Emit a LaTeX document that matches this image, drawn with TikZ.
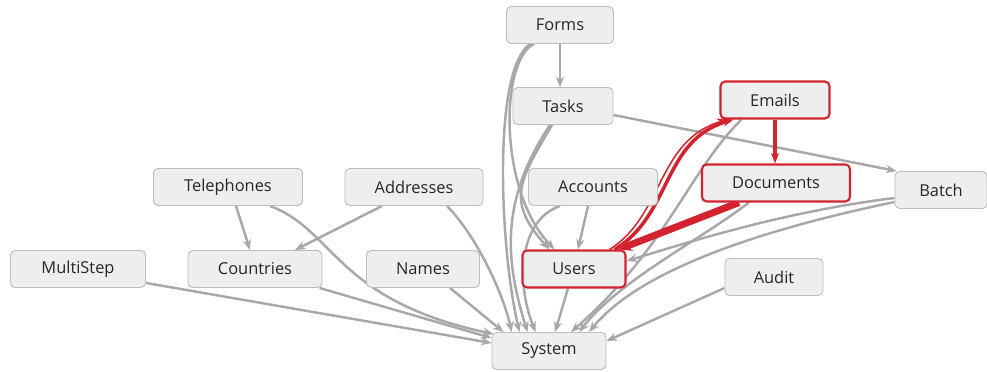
\documentclass[tikz,border=0pt]{standalone}
\usepackage{fontspec}
\setmainfont{Open Sans}
\usetikzlibrary{arrows.meta,calc,backgrounds}
\definecolor{boxfill}{HTML}{EEEEEE}
\definecolor{boxline}{HTML}{BDBDBD}
\definecolor{edgegray}{HTML}{A8A8A8}
\definecolor{hired}{HTML}{D2232F}
\begin{document}
\begin{tikzpicture}[x=0.03cm,y=-0.03cm,
  box/.style={rectangle,rounded corners=4pt,draw=boxline,fill=boxfill,line width=0.8pt,
    minimum height=1.11cm,font=\fontsize{14}{16}\selectfont,text=black!85},
  hot/.style={box,draw=hired,line width=1.8pt},
  dep/.style={draw=edgegray,line width=2.1pt,-{Stealth[length=9pt,width=7pt]}},
  hotdep/.style={dep,draw=hired}]
\useasboundingbox (0,0) rectangle (987,372);
% nodes
\node [box,minimum width=3.21cm] (forms) at (560,25) {Forms};
\node [box,minimum width=3.00cm] (tasks) at (563,106) {Tasks};
\node [hot,minimum width=3.27cm] (emails) at (775,100) {Emails};
\node [hot,minimum width=4.44cm] (documents) at (776,183) {Documents};
\node [box,minimum width=2.76cm] (batch) at (941,190) {Batch};
\node [box,minimum width=4.47cm] (telephones) at (228,187) {Telephones};
\node [box,minimum width=4.14cm] (addresses) at (414,187) {Addresses};
\node [box,minimum width=3.87cm] (accounts) at (593,187) {Accounts};
\node [box,minimum width=4.05cm] (multistep) at (78,269) {MultiStep};
\node [box,minimum width=4.02cm] (countries) at (255,269) {Countries};
\node [box,minimum width=3.39cm] (names) at (423,269) {Names};
\node [hot,minimum width=3.09cm] (users) at (574,269) {Users};
\node [box,minimum width=2.94cm] (audit) at (774,277) {Audit};
\node [box,minimum width=3.42cm] (system) at (549,351) {System};
% edges
\begin{scope}[on background layer]
\draw [dep] (forms.south) -- (forms.south |- tasks.north);
\draw [dep] ($(forms.south west)+(28,0)$) .. controls (500,60) and (498,190) .. ($(users.north west)+(33,0)$);
\draw [dep] ($(forms.south west)+(24,0)$) .. controls (492,70) and (500,250) .. ($(system.north west)+(28,0)$);
\draw [dep] ($(tasks.south)+(-11,0)$) .. controls (520,180) and (505,200) .. ($(users.north west)+(28,0)$);
\draw [dep] ($(tasks.south)+(-13,0)$) .. controls (500,200) and (505,260) .. ($(system.north west)+(36,0)$);
\draw [dep] ($(tasks.east)+(0,9)$) -- ($(batch.north west)+(2,0)$);
\draw [dep] ($(accounts.south)+(-5,0)$) -- ($(users.north)+(4,0)$);
\draw [dep] ($(accounts.south)+(-33,0)$) .. controls (520,220) and (515,280) .. ($(system.north west)+(44,0)$);
\draw [dep] ($(telephones.south)+(8,0)$) -- ($(countries.north)+(-5,0)$);
\draw [dep] ($(telephones.south)+(42,0)$) .. controls (335,230) and (335,300) .. ($(system.north west)+(2,2)$);
\draw [dep] ($(addresses.south)+(-32,0)$) -- ($(countries.north)+(40,0)$);
\draw [dep] ($(addresses.south)+(33,0)$) .. controls (480,240) and (505,300) .. ($(system.north west)+(20,0)$);
\draw [dep] ($(multistep.south east)+(0,-5)$) -- ($(system.west)+(0,-8)$);
\draw [dep] ($(countries.south east)+(-3,0)$) -- ($(system.west)+(0,-13)$);
\draw [dep] ($(names.south)+(27,0)$) -- ($(system.north west)+(12,0)$);
\draw [dep] ($(users.south)+(-6,0)$) -- ($(system.north)+(6,0)$);
\draw [dep] ($(emails.south west)+(22,0)$) .. controls (690,170) and (665,250) .. ($(system.north)+(22,0)$);
\draw [dep] ($(documents.south west)+(48,0)$) .. controls (700,240) and (620,280) .. ($(system.north)+(30,0)$);
\draw [dep] ($(batch.west)+(0,8)$) .. controls (780,212) and (680,245) .. ($(users.east)+(0,-8)$);
\draw [dep] ($(batch.west)+(0,12)$) .. controls (760,230) and (640,270) .. ($(system.north)+(40,0)$);
\draw [dep] ($(audit.west)+(0,11)$) -- ($(system.east)+(0,-10)$);
\draw [hotdep,line width=3pt] ($(users.north east)+(-12,0)$) .. controls (672,215) and (662,140) .. ($(emails.south west)+(14,0)$);
\draw [hotdep,line width=1.3pt] ($(users.north east)+(-17,0)$) .. controls (664,215) and (657,140) .. ($(emails.south west)+(8,0)$);
\draw [hotdep,line width=6pt,-{Stealth[length=11pt,width=11pt]}] ($(documents.south west)+(38,0)$) -- ($(users.north east)+(-8,0)$);
\draw [hotdep,line width=3.2pt] (emails.south) -- (emails.south |- documents.north);
\end{scope}
\end{tikzpicture}
\end{document}
